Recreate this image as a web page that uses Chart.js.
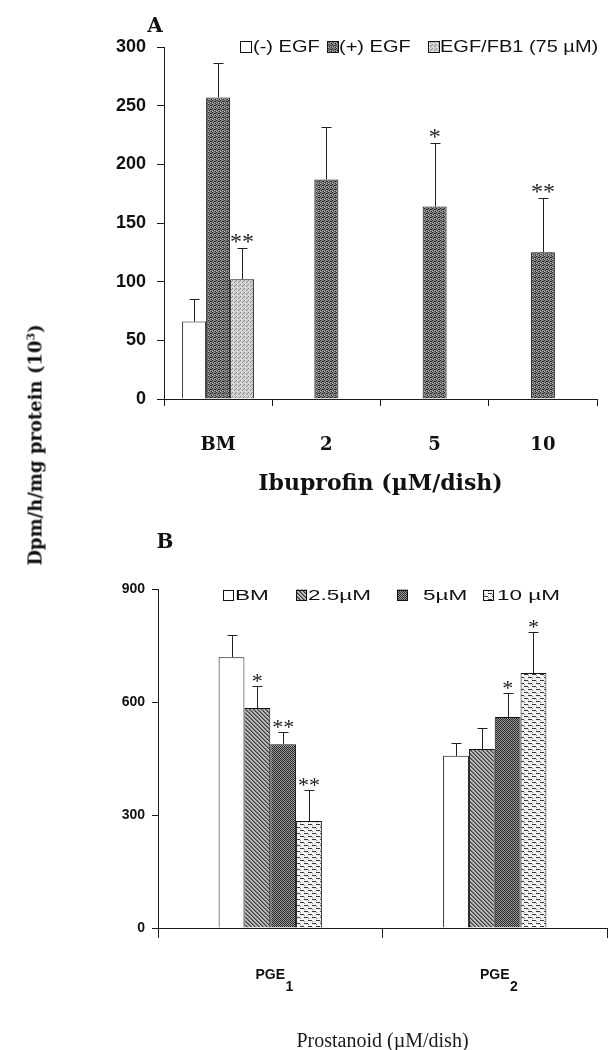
<!DOCTYPE html>
<html>
<head>
<meta charset="utf-8">
<script src="https://cdn.jsdelivr.net/npm/chart.js@4.4.1/dist/chart.umd.min.js"></script>
<style>
  html, body { margin: 0; padding: 0; background: #fff; overflow: hidden; }
  #page { position: relative; width: 609px; height: 1050px; }
  #wrapA { position: absolute; left: 0; top: 0; width: 609px; height: 500px; }
  #wrapB { position: absolute; left: 0; top: 496px; width: 609px; height: 554px; }
  .letter { position: absolute; transform: translate(-50%, -50%); font-family: "DejaVu Serif", serif; font-weight: bold; font-size: 20px; color: #111; line-height: 1; }
  #ytitle { position: absolute; left: 35px; top: 445px; transform: translate(-50%, -50%) rotate(-90deg); white-space: nowrap;
            font-family: "DejaVu Serif", serif; font-weight: bold; font-size: 18px; color: #111; line-height: 1; }
  #ytitle sup { font-size: 11px; vertical-align: 7px; }
</style>
</head>
<body>
<div id="page">
  <div id="wrapA"><canvas id="chartA"></canvas></div>
  <div id="wrapB"><canvas id="chartB"></canvas></div>
  <div class="letter" style="left:155px; top:25px;">A</div>
  <div class="letter" style="left:165px; top:541px;">B</div>
  <div id="ytitle">Dpm/h/mg protein (10<sup>3</sup>)</div>
</div>
<script>
// ---- Panel A: EGF response vs ibuprofen dose ----
const ibuCategories = ['BM', '2', '5', '10'];
const ticksA = [0, 50, 100, 150, 200, 250, 300];
const egfMinus      = [66, null, null, null];
const egfMinusErr   = [19, null, null, null];
const egfMinusStars = ['', '', '', ''];
const egfPlus       = [257, 187, 164, 125];
const egfPlusErr    = [29, 45, 54, 46];
const egfPlusStars  = ['', '', '*', '**'];
const egfFb1        = [102, null, null, null];
const egfFb1Err     = [27, null, null, null];
const egfFb1Stars   = ['**', '', '', ''];

// ---- Panel B: prostanoid output vs ibuprofen concentration ----
const prostanoids = ['PGE1', 'PGE2'];
const ticksB = [0, 300, 600, 900];
const bmVals     = [719, 457];
const bmErr      = [59, 34];
const bmStars    = ['', ''];
const ibu25Vals  = [584, 475];
const ibu25Err   = [58, 56];
const ibu25Stars = ['*', ''];
const ibu5Vals   = [488, 560];
const ibu5Err    = [32, 64];
const ibu5Stars  = ['**', '*'];
const ibu10Vals  = [284, 677];
const ibu10Err   = [82, 109];
const ibu10Stars = ['**', '*'];

// Small pixel tiles used as fill textures
function makePattern(w, h, paint) {
  const c = document.createElement('canvas');
  c.width = w; c.height = h;
  const g = c.getContext('2d');
  paint(g);
  return g.createPattern(c, 'repeat');
}
function px(g, color, pts) { g.fillStyle = color; pts.forEach(([x, y]) => g.fillRect(x, y, 1, 1)); }

const patDark = makePattern(4, 4, g => {
  g.fillStyle = '#7c7c7c'; g.fillRect(0, 0, 4, 4);
  px(g, '#2e2e2e', [[0,0],[2,1],[1,2],[3,3],[3,1]]);
  px(g, '#b5b5b5', [[2,2],[0,3]]);
});
const patLight = makePattern(4, 4, g => {
  g.fillStyle = '#cfcfcf'; g.fillRect(0, 0, 4, 4);
  px(g, '#8c8c8c', [[0,0],[2,2],[3,1]]);
  px(g, '#efefef', [[1,3]]);
});
const patHatch = makePattern(4, 4, g => {
  g.fillStyle = '#b8b8b8'; g.fillRect(0, 0, 4, 4);
  for (let x = 0; x < 4; x++) for (let y = 0; y < 4; y++) {
    const d = (x - y + 4) % 4;
    if (d === 0) px(g, '#3c3c3c', [[x, y]]);
    else if (d === 1) px(g, '#7a7a7a', [[x, y]]);
  }
});
const patDense = makePattern(4, 4, g => {
  g.fillStyle = '#8c8c8c'; g.fillRect(0, 0, 4, 4);
  px(g, '#2f2f2f', [[0,0],[1,1],[2,2],[3,3],[2,0],[3,1],[0,2],[1,3]]);
  px(g, '#a8a8a8', [[1,0],[3,2]]);
});
const patDash = makePattern(8, 6, g => {
  g.fillStyle = '#f2f2f2'; g.fillRect(0, 0, 8, 6);
  g.fillStyle = '#3a3a3a';
  g.fillRect(0, 1, 4, 1);
  g.fillRect(4, 4, 4, 1);
  px(g, '#8a8a8a', [[4,2],[0,5]]);
});

// Error bars (upper arm only) and significance marks drawn above each bar
const errorBarsPlugin = {
  id: 'errorBars',
  afterDatasetsDraw(chart, args, opts) {
    const ctx = chart.ctx;
    const yScale = chart.scales.y;
    ctx.save();
    chart.data.datasets.forEach((ds, di) => {
      const meta = chart.getDatasetMeta(di);
      meta.data.forEach((bar, i) => {
        const v = ds.data[i];
        if (v === null || v === undefined) return;
        let top = bar.y;
        const e = ds.errors ? ds.errors[i] : null;
        if (e !== null && e !== undefined) {
          const yE = Math.round(yScale.getPixelForValue(v + e)) + 0.5;
          const x = Math.round(bar.x) + 0.5;
          ctx.strokeStyle = opts.color;
          ctx.lineWidth = 1;
          ctx.beginPath();
          ctx.moveTo(x, bar.y);
          ctx.lineTo(x, yE);
          ctx.moveTo(x - opts.cap / 2, yE);
          ctx.lineTo(x + opts.cap / 2, yE);
          ctx.stroke();
          top = yE;
        }
        const s = ds.stars ? ds.stars[i] : '';
        if (s) {
          ctx.fillStyle = opts.color;
          ctx.font = opts.starFont;
          ctx.textAlign = 'center';
          ctx.textBaseline = 'alphabetic';
          ctx.fillText(s, bar.x, top - opts.starGap + opts.starShift);
        }
      });
    });
    ctx.restore();
  }
};

// Inline legend with filled boxes, laid out along one row
const boxLegendPlugin = {
  id: 'boxLegend',
  afterDraw(chart, args, opts) {
    if (!opts.items) return;
    const ctx = chart.ctx;
    ctx.save();
    opts.items.forEach((it, k) => {
      const ds = chart.data.datasets[k];
      const b = opts.box;
      ctx.fillStyle = ds.backgroundColor;
      ctx.fillRect(it.box, opts.y - b / 2, b, b);
      ctx.strokeStyle = '#111';
      ctx.lineWidth = 1;
      ctx.strokeRect(it.box + 0.5, Math.round(opts.y - b / 2) + 0.5, b - 1, b - 1);
      ctx.save();
      ctx.translate(it.text, opts.y);
      ctx.scale(opts.stretch, 1);
      ctx.font = opts.font;
      ctx.fillStyle = '#111';
      ctx.textAlign = 'left';
      ctx.textBaseline = 'middle';
      ctx.fillText(ds.label, 0, 1);
      ctx.restore();
    });
    ctx.restore();
  }
};

// Subscript digits after the category names on the panel B axis
const subscriptPlugin = {
  id: 'subscriptLabels',
  afterDraw(chart, args, opts) {
    if (!opts.enabled) return;
    const ctx = chart.ctx;
    const xs = chart.scales.x;
    const tOpts = xs.options.ticks;
    const size = tOpts.font.size;
    const center = xs.top + xs.options.grid.tickLength + tOpts.padding + size * 0.6;
    ctx.save();
    ctx.font = 'bold ' + size + 'px "Liberation Sans", Arial, sans-serif';
    ctx.fillStyle = '#111';
    ctx.textAlign = 'left';
    ctx.textBaseline = 'middle';
    chart.data.labels.forEach((lab, i) => {
      const m = lab.match(/^(\D+)(\d+)$/);
      if (!m) return;
      const w = ctx.measureText(m[1]).width;
      const x = xs.getPixelForTick(i) + w / 2 + 0.5;
      ctx.fillText(m[2], x, center + opts.drop);
    });
    ctx.restore();
  }
};

Chart.register(errorBarsPlugin, boxLegendPlugin, subscriptPlugin);

const axisColor = '#1a1a1a';

new Chart(document.getElementById('chartA'), {
  type: 'bar',
  data: {
    labels: ibuCategories,
    datasets: [
      { label: '(-) EGF', data: egfMinus, errors: egfMinusErr, stars: egfMinusStars, backgroundColor: '#ffffff' },
      { label: '(+) EGF', data: egfPlus, errors: egfPlusErr, stars: egfPlusStars, backgroundColor: patDark },
      { label: 'EGF/FB1 (75 µM)', data: egfFb1, errors: egfFb1Err, stars: egfFb1Stars, backgroundColor: patLight }
    ]
  },
  options: {
    responsive: true, maintainAspectRatio: false, animation: false, devicePixelRatio: 1,
    layout: { padding: { top: 47, right: 12, bottom: 0, left: 0 }, autoPadding: false },
    datasets: { bar: { categoryPercentage: 0.665, barPercentage: 1, borderColor: '#111', borderWidth: 1 } },
    plugins: {
      legend: { display: false }, tooltip: { enabled: false },
      errorBars: { color: '#222', cap: 10, starFont: '24px "Liberation Serif", serif', starGap: 11, starShift: 11.3 },
      boxLegend: { y: 47, box: 12, stretch: 1.25, font: '16px "Liberation Sans", Arial, sans-serif',
                   items: [{ box: 240, text: 253 }, { box: 327, text: 339 }, { box: 428, text: 440 }] },
      subscriptLabels: { enabled: false }
    },
    scales: {
      x: {
        offset: true,
        grid: { offset: true, drawOnChartArea: false, drawTicks: true, tickLength: 7, color: axisColor, lineWidth: 1 },
        border: { color: axisColor, width: 1 },
        ticks: { font: { family: 'DejaVu Serif', weight: 'bold', size: 18 }, color: '#111', padding: 29, maxRotation: 0, autoSkip: false },
        title: { display: true, text: 'Ibuprofin (µM/dish)', color: '#111',
                 font: { family: 'DejaVu Serif', weight: 'bold', size: 22, lineHeight: 1.2 }, padding: { top: 0, bottom: 3 } },
        afterFit(s) { s.height = 101; }
      },
      y: {
        min: 0, max: 300,
        afterBuildTicks(s) { s.ticks = ticksA.map(v => ({ value: v })); },
        grid: { drawOnChartArea: false, drawTicks: true, tickLength: 7, color: axisColor, lineWidth: 1 },
        border: { color: axisColor, width: 1 },
        ticks: { font: { family: 'Liberation Sans', weight: 'bold', size: 18 }, color: '#111', padding: 11 },
        afterFit(s) { s.width = 164; }
      }
    }
  }
});

new Chart(document.getElementById('chartB'), {
  type: 'bar',
  data: {
    labels: prostanoids,
    datasets: [
      { label: 'BM', data: bmVals, errors: bmErr, stars: bmStars, backgroundColor: '#ffffff' },
      { label: '2.5µM', data: ibu25Vals, errors: ibu25Err, stars: ibu25Stars, backgroundColor: patHatch },
      { label: '5µM', data: ibu5Vals, errors: ibu5Err, stars: ibu5Stars, backgroundColor: patDense },
      { label: '10 µM', data: ibu10Vals, errors: ibu10Err, stars: ibu10Stars, backgroundColor: patDash }
    ]
  },
  options: {
    responsive: true, maintainAspectRatio: false, animation: false, devicePixelRatio: 1,
    layout: { padding: { top: 93, right: 2, bottom: 0, left: 0 }, autoPadding: false },
    datasets: { bar: { categoryPercentage: 0.46, barPercentage: 1, borderColor: '#111', borderWidth: 1 } },
    plugins: {
      legend: { display: false }, tooltip: { enabled: false },
      errorBars: { color: '#222', cap: 10, starFont: '22px "Liberation Serif", serif', starGap: 9, starShift: 10.3 },
      boxLegend: { y: 99, box: 11, stretch: 1.5, font: '15px "Liberation Sans", Arial, sans-serif',
                   items: [{ box: 223, text: 235 }, { box: 296, text: 308 }, { box: 397, text: 423 }, { box: 483, text: 497 }] },
      subscriptLabels: { enabled: true, drop: 12 }
    },
    scales: {
      x: {
        offset: true,
        grid: { offset: true, drawOnChartArea: false, drawTicks: true, tickLength: 10, color: axisColor, lineWidth: 1 },
        border: { color: axisColor, width: 1 },
        ticks: { font: { family: 'Liberation Sans', weight: 'bold', size: 14 }, color: '#111', padding: 29, maxRotation: 0, autoSkip: false,
                 callback(v, i) { return prostanoids[i].replace(/\d+$/, ''); } },
        title: { display: true, text: 'Prostanoid (µM/dish)', color: '#1a1a1a',
                 font: { family: 'Liberation Serif', weight: 'normal', size: 20, lineHeight: 1 }, padding: { top: 0, bottom: -2 } },
        afterFit(s) { s.height = 122; }
      },
      y: {
        min: 0, max: 900,
        afterBuildTicks(s) { s.ticks = ticksB.map(v => ({ value: v })); },
        grid: { drawOnChartArea: false, drawTicks: true, tickLength: 6, color: axisColor, lineWidth: 1 },
        border: { color: axisColor, width: 1 },
        ticks: { font: { family: 'Liberation Sans', weight: 'bold', size: 14 }, color: '#111', padding: 7 },
        afterFit(s) { s.width = 158; }
      }
    }
  }
});
</script>
</body>
</html>
